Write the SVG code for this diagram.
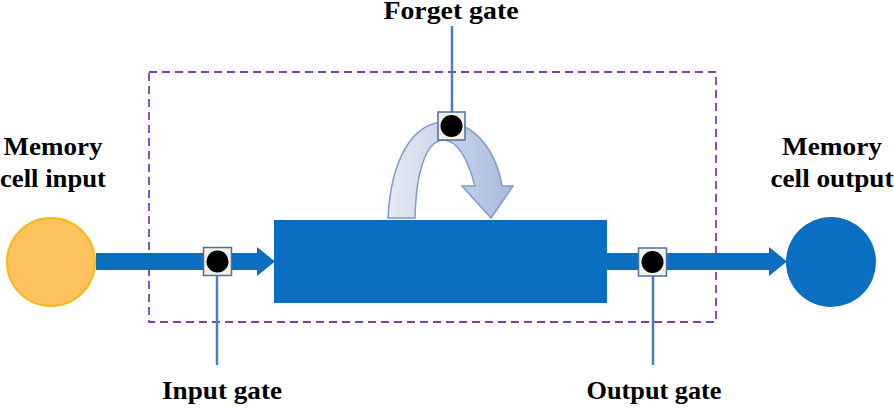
<svg xmlns="http://www.w3.org/2000/svg" width="894" height="408" viewBox="0 0 894 408">
  <defs>
    <linearGradient id="curveGrad" x1="0" y1="0" x2="1" y2="0">
      <stop offset="0" stop-color="#E6EBF4"/>
      <stop offset="1" stop-color="#A7BBDD"/>
    </linearGradient>
    <style>
      .lbl { font-family: "Liberation Serif", "Times New Roman", serif; font-weight: bold; font-size: 26px; fill: #000; text-anchor: middle; }
      .flow { fill: #0A6FC1; }
      .gatebox { fill: #F3F0E6; stroke: #4C6FA6; stroke-width: 1.5; }
      .gatedot { fill: #000; }
      .gateline { stroke: #4A7EBF; stroke-width: 2.5; fill: none; }
    </style>
  </defs>
  <rect width="894" height="408" fill="#fff"/>

  <g id="boundary">
    <rect x="149" y="72" width="567" height="250" fill="none" stroke="#7F3FB0" stroke-width="1.8" stroke-dasharray="8,5"/>
  </g>

  <g id="connectors">
    <polygon class="flow" points="96,253 257,253 257,247 275,261.5 257,276 257,270 96,270"/>
    <polygon class="flow" points="607,253 769,253 769,247 787,261.5 769,276 769,270 607,270"/>
    <line class="gateline" x1="452" y1="26" x2="452" y2="112"/>
    <line class="gateline" x1="217" y1="275" x2="217" y2="365"/>
    <line class="gateline" x1="653" y1="276" x2="653" y2="365"/>
    <path d="M388,218 C391,160 412,123 444,122 C474,122 496,150 502,186 L513,186 L491,218 L462,186 L475,186 C468,160 458,140 443,140 C425,141 416,175 415,218 Z" fill="url(#curveGrad)" stroke="#7E9BCB" stroke-width="1.5"/>
  </g>

  <g id="memory-cell-input">
    <circle cx="51" cy="262" r="44" fill="#FDC15D" stroke="#F6B914" stroke-width="2"/>
  </g>

  <g id="memory-cell-output">
    <circle cx="831" cy="262" r="45" fill="#0A6FC1"/>
  </g>

  <g id="memory-cell">
    <rect x="274" y="220" width="333" height="83" fill="#0A6FC1"/>
  </g>

  <g id="input-gate">
    <rect class="gatebox" x="203.5" y="247.5" width="28" height="28"/>
    <circle class="gatedot" cx="217.5" cy="261.5" r="11"/>
  </g>

  <g id="output-gate">
    <rect class="gatebox" x="638.5" y="248" width="28" height="28"/>
    <circle class="gatedot" cx="652.5" cy="262" r="11"/>
  </g>

  <g id="forget-gate">
    <rect class="gatebox" x="438" y="112" width="27" height="28"/>
    <circle class="gatedot" cx="451.5" cy="126" r="11"/>
  </g>

  <g id="labels">
    <text class="lbl" x="451" y="19" textLength="135" lengthAdjust="spacingAndGlyphs">Forget gate</text>
    <text class="lbl" x="53" y="155" textLength="99" lengthAdjust="spacingAndGlyphs">Memory</text>
    <text class="lbl" x="53" y="187" textLength="106" lengthAdjust="spacingAndGlyphs">cell input</text>
    <text class="lbl" x="832" y="155" textLength="100" lengthAdjust="spacingAndGlyphs">Memory</text>
    <text class="lbl" x="832" y="187" textLength="123" lengthAdjust="spacingAndGlyphs">cell output</text>
    <text class="lbl" x="222" y="399" textLength="120" lengthAdjust="spacingAndGlyphs">Input gate</text>
    <text class="lbl" x="654" y="399" textLength="135" lengthAdjust="spacingAndGlyphs">Output gate</text>
  </g>
</svg>
